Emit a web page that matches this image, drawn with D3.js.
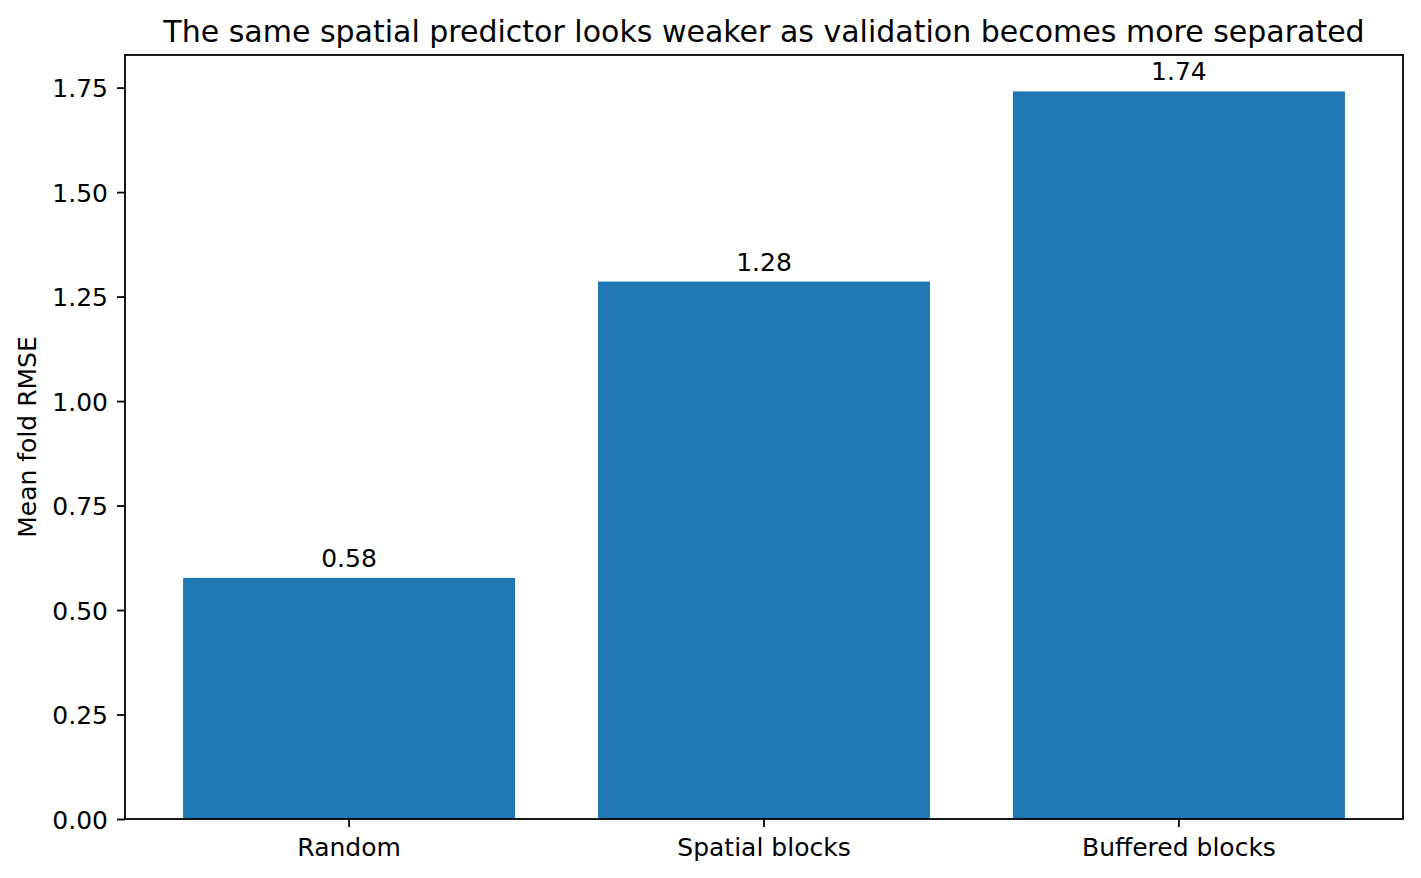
<!DOCTYPE html>
<html>
<head>
<meta charset="utf-8">
<script src="https://cdn.jsdelivr.net/npm/d3@7"></script>
<style>
  body { margin: 0; background: #fff; }
  text { font-family: "DejaVu Sans", sans-serif; fill: #000; }
</style>
</head>
<body>
<div id="chart"></div>
<script>
var width = 1421;
var height = 878;

// data
var categories = ["Random", "Spatial blocks", "Buffered blocks"];
var rmse = [0.577, 1.286, 1.741];
var rmseLabels = ["0.58", "1.28", "1.74"];
var yTicks = [0.00, 0.25, 0.50, 0.75, 1.00, 1.25, 1.50, 1.75];
var title = "The same spatial predictor looks weaker as validation becomes more separated";
var yTitle = "Mean fold RMSE";

var fs = 25; // tick / label font size
var plotL = 125, plotR = 1403, plotT = 55, plotB = 819;

var svg = d3.select("#chart").append("svg")
  .attr("width", width)
  .attr("height", height);

// band scale: 0.8 bar width, 5% margins like matplotlib
var x = d3.scaleBand()
  .domain(categories)
  .range([plotL, plotR])
  .paddingInner(0.2)
  .paddingOuter(0.14);

var y = d3.scaleLinear()
  .domain([0, d3.max(rmse) * 1.05])
  .range([plotB, plotT]);

// bars
svg.selectAll("rect.bar")
  .data(rmse)
  .enter().append("rect")
  .attr("class", "bar")
  .attr("x", function(d, i) { return x(categories[i]); })
  .attr("width", x.bandwidth())
  .attr("y", function(d) { return y(d); })
  .attr("height", function(d) { return plotB - y(d); })
  .style("fill", "#1f77b4");

// bar labels
svg.selectAll("text.val")
  .data(rmse)
  .enter().append("text")
  .attr("class", "val")
  .attr("x", function(d, i) { return x(categories[i]) + x.bandwidth() / 2; })
  .attr("y", function(d) { return y(d) - 11; })
  .attr("text-anchor", "middle")
  .style("font-size", fs + "px")
  .text(function(d, i) { return rmseLabels[i]; });

// axes frame
svg.append("rect")
  .attr("x", plotL).attr("y", plotT)
  .attr("width", plotR - plotL).attr("height", plotB - plotT)
  .style("fill", "none")
  .style("stroke", "#000")
  .style("stroke-width", 1.8);

// y axis
var yAxis = svg.append("g")
  .attr("transform", "translate(" + plotL + ",0)")
  .call(d3.axisLeft(y).tickValues(yTicks).tickFormat(d3.format(".2f")).tickSize(8).tickPadding(9));
yAxis.select(".domain").remove();
yAxis.selectAll(".tick line").style("stroke", "#000").style("stroke-width", 1.8);
yAxis.selectAll(".tick text")
  .style("font-size", fs + "px")
  .style("font-family", "DejaVu Sans")
  .attr("dy", null)
  .attr("y", 0.3645 * fs);

// x axis
var xAxis = svg.append("g")
  .attr("transform", "translate(0," + plotB + ")")
  .call(d3.axisBottom(x).tickSize(8).tickPadding(8));
xAxis.select(".domain").remove();
xAxis.selectAll(".tick line").style("stroke", "#000").style("stroke-width", 1.8);
xAxis.selectAll(".tick text")
  .style("font-size", fs + "px")
  .style("font-family", "DejaVu Sans")
  .attr("dy", null)
  .attr("y", 37);

// title
svg.append("text")
  .attr("x", (plotL + plotR) / 2)
  .attr("y", 42)
  .attr("text-anchor", "middle")
  .style("font-size", (fs * 1.2) + "px")
  .text(title);

// y label
svg.append("text")
  .attr("transform", "translate(36," + (plotT + plotB) / 2 + ") rotate(-90)")
  .attr("text-anchor", "middle")
  .style("font-size", fs + "px")
  .text(yTitle);
</script>
</body>
</html>
